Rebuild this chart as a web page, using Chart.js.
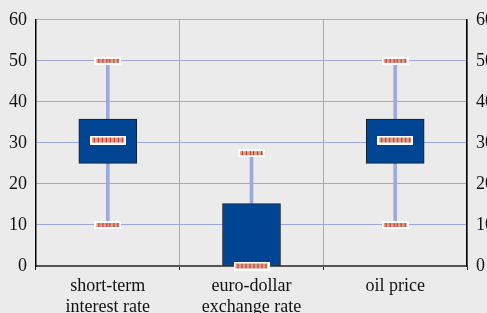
<!DOCTYPE html>
<html>
<head>
<meta charset="utf-8">
<script src="https://cdn.jsdelivr.net/npm/chart.js@4.4.1/dist/chart.umd.min.js"></script>
<style>
  html, body { margin: 0; padding: 0; background: #ebebeb; }
  canvas { display: block; }
</style>
</head>
<body>
<canvas id="chart" width="487" height="313"></canvas>
<script>
'use strict';

// ── data ──────────────────────────────────────────────────────────────────────
const categories = [['short-term', 'interest rate'], ['euro-dollar', 'exchange rate'], 'oil price'];
const boxLow      = [25, 0, 25];
const boxHigh     = [35.8, 15.2, 35.8];
const whiskerLow  = [10, 0, 10];
const whiskerHigh = [50, 27.5, 50];
const capLow      = [10, null, 10];
const capHigh     = [50, 27.5, 50];
const medians     = [30.7, 0, 30.7];
const yMin = 0, yMax = 60, yStep = 10;

// ── helpers ───────────────────────────────────────────────────────────────────
const FONT = { family: "'Liberation Serif', 'Times New Roman', serif", size: 18 };
const GRID = '#9ea8e0';

// striped marker (white rim, salmon fill, red stripes)
function makeMarker(w, h, stripes) {
  const c = document.createElement('canvas');
  c.width = w; c.height = h;
  const ctx = c.getContext('2d');
  ctx.fillStyle = '#ffffff';
  ctx.fillRect(0, 0, w, h);
  ctx.fillStyle = '#dc9c88';
  ctx.fillRect(2, 2, w - 4, h - 4);
  ctx.fillStyle = '#c0322c';
  const step = (w - 4) / stripes;
  for (let i = 0; i < stripes; i++) ctx.fillRect(Math.round(3 + i * step + step / 2) - 1, 2, 1, h - 4);
  return c;
}
const capMarker = makeMarker(27, 8, 6);
const medMarker = makeMarker(36, 9, 8);

const pairs = (lo, hi) => lo.map((v, i) => [v, hi[i]]);

// ── chart ─────────────────────────────────────────────────────────────────────
new Chart(document.getElementById('chart'), {
  type: 'bar',
  data: {
    labels: categories,
    datasets: [
      {
        label: 'whisker',
        data: pairs(whiskerLow, whiskerHigh),
        backgroundColor: '#a0a9dc',
        barThickness: 3,
        grouped: false,
        order: 3,
        yAxisID: 'y',
      },
      {
        label: 'box',
        data: pairs(boxLow, boxHigh),
        backgroundColor: '#004494',
        borderColor: '#1e1e1e',
        borderWidth: 1,
        borderSkipped: false,
        barThickness: 58,
        grouped: false,
        order: 2,
        yAxisID: 'y',
      },
      {
        type: 'line', label: 'cap low', data: capLow, showLine: false,
        pointStyle: capMarker, pointRadius: 5, clip: false, order: 1, yAxisID: 'y',
      },
      {
        type: 'line', label: 'cap high', data: capHigh, showLine: false,
        pointStyle: capMarker, pointRadius: 5, clip: false, order: 1, yAxisID: 'y',
      },
      {
        type: 'line', label: 'median', data: medians, showLine: false,
        pointStyle: medMarker, pointRadius: 5, clip: false, order: 0, yAxisID: 'y',
      },
    ]
  },
  options: {
    responsive: false,
    animation: false,
    events: [],
    layout: { padding: { top: 10, right: 0, left: 0, bottom: 0 } },
    plugins: { legend: { display: false }, tooltip: { enabled: false } },
    scales: {
      x: {
        offset: true,
        grid: { color: GRID, tickColor: '#222', tickLength: 4, offset: true },
        border: { color: '#555', width: 2 },
        ticks: { color: '#111', font: FONT, padding: 5, maxRotation: 0, autoSkip: false },
        afterFit: s => { s.height = 47; },
      },
      y: {
        position: 'left',
        min: yMin, max: yMax,
        grid: { color: c => c.tick.value === 0 ? '#ffffff' : GRID, drawTicks: false },
        border: { color: '#000', width: 1.5 },
        ticks: { color: '#111', font: FONT, stepSize: yStep, padding: 9 },
        afterFit: s => { s.width = 36; },
      },
      y2: {
        position: 'right',
        min: yMin, max: yMax,
        grid: { display: false, drawTicks: false },
        border: { color: '#000', width: 1.5 },
        ticks: { color: '#111', font: FONT, stepSize: yStep, padding: 9 },
        afterFit: s => { s.width = 20; },
      },
    },
  },
});
</script>
</body>
</html>
